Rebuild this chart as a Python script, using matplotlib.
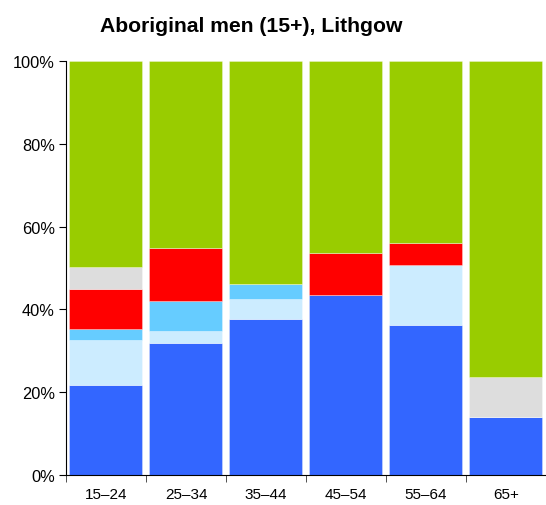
import matplotlib
matplotlib.use('Agg')
import matplotlib.pyplot as plt
import numpy as np

plt.rcParams['font.family'] = ['Liberation Sans', 'DejaVu Sans']

ages = ['15–24', '25–34', '35–44', '45–54', '55–64', '65+']

# shares (%) per age group, stacked bottom to top
blue = [21.8, 31.9, 37.7, 43.4, 36.2, 14.1]
pale_blue = [10.7, 2.8, 4.8, 0.0, 14.6, 0.0]
sky_blue = [2.7, 7.3, 3.6, 0.0, 0.0, 0.0]
red = [9.7, 12.8, 0.0, 10.3, 5.3, 0.0]
grey = [5.3, 0.0, 0.0, 0.0, 0.0, 9.6]
green = [49.8, 45.2, 53.9, 46.3, 43.9, 76.3]

series = [
    (blue, '#3366FF'),
    (pale_blue, '#CCECFF'),
    (sky_blue, '#66CCFF'),
    (red, '#FF0000'),
    (grey, '#DDDDDD'),
    (green, '#99CC00'),
]

fig = plt.figure(figsize=(5.46, 5.06), dpi=100)
ax = fig.add_axes([66 / 546, 30 / 506, 480 / 546, 414 / 506])

x = np.arange(len(ages))
bottom = np.zeros(len(ages))
for vals, col in series:
    v = np.array(vals)
    ax.bar(x - 0.01, v, width=0.915, bottom=bottom, color=col,
           edgecolor=(1, 1, 1, 0.35), linewidth=0.6)
    bottom += v

ax.set_xlim(-0.5, len(ages) - 0.5)
ax.set_ylim(0, 100)
ax.set_yticks([0, 20, 40, 60, 80, 100])
ax.set_yticklabels([f'{t}%' for t in [0, 20, 40, 60, 80, 100]], fontsize=11.8)
ax.set_xticks(x)
ax.set_xticklabels(ages, fontsize=11)
ax.tick_params(axis='x', length=0, pad=9)
ax.set_xticks(np.arange(len(ages) + 1) - 0.5, minor=True)
ax.tick_params(axis='x', which='minor', length=5, color='#333333')
ax.tick_params(axis='y', length=5, pad=3)

ax.spines['top'].set_visible(False)
ax.spines['right'].set_visible(False)

fig.text(0.46, 0.948, 'Aboriginal men (15+), Lithgow', ha='center', va='center',
         fontsize=15.2, fontweight='bold')

fig.savefig('out.png', dpi=100)
